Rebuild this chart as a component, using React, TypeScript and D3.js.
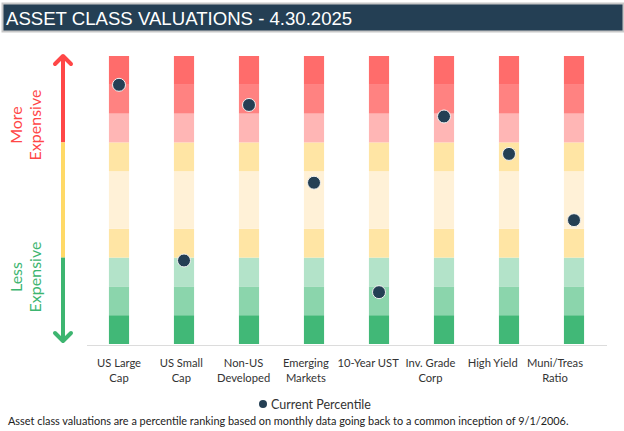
import * as React from 'react';
import * as d3 from 'd3';

const categories = [
  ['US Large', 'Cap'],
  ['US Small', 'Cap'],
  ['Non-US', 'Developed'],
  ['Emerging', 'Markets'],
  ['10-Year UST'],
  ['Inv. Grade', 'Corp'],
  ['High Yield'],
  ['Muni/Treas', 'Ratio'],
];
const percentiles = [90, 29, 83, 56, 18, 79, 66, 43];
// percentile bands, bottom to top
const bandStarts = [0, 10, 20, 30, 40, 60, 70, 80, 90];
const bandEnds = [10, 20, 30, 40, 60, 70, 80, 90, 100];
const bandColors = ['#41b877', '#8bd5ac', '#b3e3c9', '#ffe5a4', '#fff1d7', '#ffe5a4', '#ffb6b5', '#ff8281', '#ff6c6b'];
const title = 'ASSET CLASS VALUATIONS - 4.30.2025';
const legendLabel = 'Current Percentile';
const footnote = 'Asset class valuations are a percentile ranking based on monthly data going back to a common inception of 9/1/2006.';

const W = 624;
const H = 431;
const FONT = 'Lato, "Open Sans", sans-serif';

export default function App() {
  const ref = React.useRef<SVGSVGElement>(null);

  React.useEffect(() => {
    const svg = d3.select(ref.current);
    svg.selectAll('*').remove();

    // title bar
    svg.append('rect')
      .attr('x', 2.5).attr('y', 3.5).attr('width', W - 3).attr('height', 28)
      .attr('fill', '#243f54').attr('stroke', '#c8c8c8').attr('stroke-width', 2);
    svg.append('text')
      .attr('x', 6).attr('y', 25)
      .attr('font-family', '"Liberation Sans Narrow", "Arial Narrow", sans-serif')
      .attr('font-size', 18.6)
      .attr('fill', '#ffffff')
      .text(title);

    const x = d3.scaleBand().domain(categories.map(c => c.join(' ')))
      .range([86.5, 606.5]).paddingInner(0.69).paddingOuter(0.345);
    const y = d3.scaleLinear().domain([0, 100]).range([344, 56]);
    const labelX = d3.scalePoint().domain(categories.map(c => c.join(' ')))
      .range([119, 555]);

    const cols = svg.append('g').selectAll('g').data(categories).enter().append('g')
      .attr('transform', d => `translate(${x(d.join(' '))},0)`);
    cols.selectAll('rect').data(bandStarts).enter().append('rect')
      .attr('x', 0)
      .attr('width', x.bandwidth())
      .attr('y', (d, i) => y(bandEnds[i]))
      .attr('height', (d, i) => y(d) - y(bandEnds[i]))
      .attr('fill', (d, i) => bandColors[i]);

    // baseline
    svg.append('line')
      .attr('x1', 87).attr('x2', 607).attr('y1', 345.5).attr('y2', 345.5)
      .attr('stroke', '#dcdcdc').attr('stroke-width', 1);

    // dots
    svg.append('g').selectAll('circle').data(percentiles).enter().append('circle')
      .attr('cx', (d, i) => x(categories[i].join(' ')) + x.bandwidth() / 2)
      .attr('cy', d => y(d))
      .attr('r', 6.5)
      .attr('fill', '#243f54')
      .attr('stroke', '#f2f2f2')
      .attr('stroke-width', 1);

    // category labels
    const labels = svg.append('g').selectAll('text').data(categories).enter().append('text')
      .attr('text-anchor', 'middle')
      .attr('font-family', FONT).attr('font-size', 11.2).attr('fill', '#333333')
      .attr('transform', d => `translate(${labelX(d.join(' '))},367)`);
    labels.selectAll('tspan').data(d => d).enter().append('tspan')
      .attr('x', 0).attr('y', (d, i) => i * 15)
      .text(d => d);

    // left arrow
    const ax = 63;
    const arrow = svg.append('g').attr('stroke-width', 4).attr('fill', 'none');
    arrow.append('line').attr('x1', ax).attr('x2', ax).attr('y1', 56).attr('y2', y(70)).attr('stroke', '#ff4747');
    arrow.append('line').attr('x1', ax).attr('x2', ax).attr('y1', y(70)).attr('y2', y(30)).attr('stroke', '#ffd966');
    arrow.append('line').attr('x1', ax).attr('x2', ax).attr('y1', y(30)).attr('y2', 341).attr('stroke', '#3db570');
    arrow.append('path').attr('d', `M${ax - 8},${64} L${ax},${56} L${ax + 8},${64}`)
      .attr('stroke', '#ff4747').attr('stroke-linecap', 'round').attr('stroke-linejoin', 'round');
    arrow.append('path').attr('d', `M${ax - 8},${333} L${ax},${341} L${ax + 8},${333}`)
      .attr('stroke', '#3db570').attr('stroke-linecap', 'round').attr('stroke-linejoin', 'round');

    const side = [
      { lines: ['More', 'Expensive'], cy: 125, color: '#ff4747' },
      { lines: ['Less', 'Expensive'], cy: 277, color: '#3db570' },
    ];
    side.forEach(s => {
      s.lines.forEach((t, i) => {
        svg.append('text')
          .attr('transform', `translate(${22 + i * 19},${s.cy}) rotate(-90)`)
          .attr('text-anchor', 'middle')
          .attr('font-family', FONT).attr('font-size', 16)
          .attr('fill', s.color)
          .text(t);
      });
    });

    // legend
    svg.append('circle').attr('cx', 263).attr('cy', 404).attr('r', 4).attr('fill', '#243f54');
    svg.append('text')
      .attr('x', 271).attr('y', 408.5)
      .attr('font-family', FONT).attr('font-size', 12.5).attr('fill', '#333333')
      .text(legendLabel);

    // footnote
    svg.append('text')
      .attr('x', 8).attr('y', 425)
      .attr('font-family', FONT).attr('font-size', 10.9).attr('fill', '#222222')
      .text(footnote);
  }, []);

  return (
    <svg ref={ref} width={W} height={H}
      style={{ position: 'absolute', left: 0, top: 0, background: '#ffffff' }} />
  );
}
